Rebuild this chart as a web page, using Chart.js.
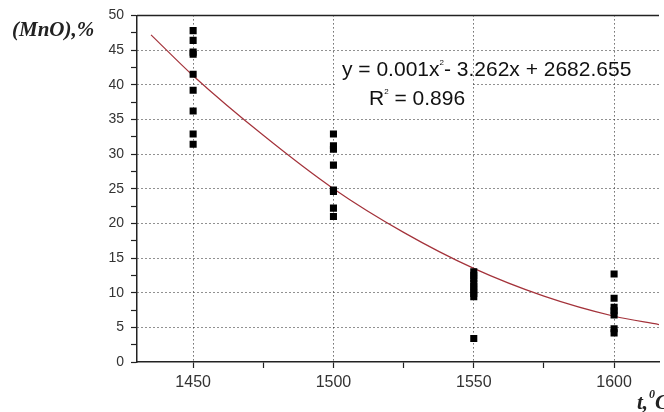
<!DOCTYPE html>
<html>
<head>
<meta charset="utf-8">
<script src="https://cdn.jsdelivr.net/npm/chart.js@4.4.1/dist/chart.umd.min.js"></script>
<style>
  html, body { margin: 0; padding: 0; background: #fff; }
  #wrap { width: 664px; height: 412px; }
</style>
</head>
<body>
<div id="wrap"><canvas id="chart"></canvas></div>
<script>
// --- data ---
const temps = [1450, 1500, 1550, 1600];
const mnoAt1450 = [47.8, 46.4, 44.7, 44.4, 41.5, 39.2, 36.2, 32.9, 31.4];
const mnoAt1500 = [32.9, 31.2, 30.7, 28.4, 24.8, 24.6, 22.2, 21.0];
const mnoAt1550 = [13.0, 12.5, 12.0, 11.4, 10.9, 10.4, 9.9, 9.4, 3.4];
const mnoAt1600 = [12.7, 9.2, 7.9, 7.4, 6.8, 4.8, 4.2];

// trend curve
const trendT = [1435, 1450, 1475, 1500, 1525, 1550, 1575, 1600, 1616];
const trendMnO = [47.2, 41.3, 32.7, 25.0, 18.7, 13.5, 9.5, 6.6, 5.4];

const xTickValues = [1450, 1475, 1500, 1525, 1550, 1575, 1600];
const yMin = 0, yMax = 50, yStep = 2.5;

const points = [];
[mnoAt1450, mnoAt1500, mnoAt1550, mnoAt1600].forEach((list, i) => {
    list.forEach(v => points.push({ x: temps[i], y: v }));
});
const trend = trendT.map((t, i) => ({ x: t, y: trendMnO[i] }));

const ink = '#222';

// --- labels, equation and top frame ---
const extras = {
    id: 'extras',
    beforeDatasetsDraw(chart) {
        const { ctx, chartArea, scales } = chart;
        const xs = scales.x, ys = scales.y;
        ctx.save();
        // white box behind R^2 text
        ctx.fillStyle = '#fff';
        const bx1 = xs.getPixelForValue(1500) + 2, bx2 = xs.getPixelForValue(1550) - 2;
        const by1 = ys.getPixelForValue(41.2), by2 = ys.getPixelForValue(35.6);
        ctx.fillRect(bx1, by1, bx2 - bx1, by2 - by1);
        // top frame
        ctx.strokeStyle = ink;
        ctx.lineWidth = 1.5;
        ctx.beginPath();
        ctx.moveTo(chartArea.left, chartArea.top);
        ctx.lineTo(chartArea.right, chartArea.top);
        ctx.stroke();
        ctx.restore();
    },
    afterDraw(chart) {
        const { ctx } = chart;
        ctx.save();
        ctx.fillStyle = ink;
        ctx.textBaseline = 'alphabetic';
        ctx.textAlign = 'left';

        // y axis title
        ctx.font = 'italic bold 21px "Liberation Serif", "Times New Roman", serif';
        ctx.fillText('(MnO),%', 12, 36);

        // x axis title: t,⁰C
        let x = 637;
        ctx.font = 'italic bold 21px "Liberation Serif", "Times New Roman", serif';
        ctx.fillText('t,', x, 409);
        x += ctx.measureText('t,').width + 1;
        ctx.font = 'italic bold 12px "Liberation Serif", serif';
        ctx.fillText('0', x, 398);
        x += ctx.measureText('0').width;
        ctx.font = 'italic bold 21px "Liberation Serif", "Times New Roman", serif';
        ctx.fillText('C', x, 409);

        // regression equation
        const big = '21px "Liberation Sans", Arial, sans-serif';
        const sup = '8px "Liberation Sans", Arial, sans-serif';
        ctx.fillStyle = '#111';
        x = 342;
        ctx.font = big;
        ctx.fillText('y = 0.001x', x, 76);
        x += ctx.measureText('y = 0.001x').width;
        ctx.font = sup;
        ctx.fillText('2', x, 65);
        x += ctx.measureText('2').width;
        ctx.font = big;
        ctx.fillText('- 3.262x + 2682.655', x, 76);

        x = 369;
        ctx.fillText('R', x, 105);
        x += ctx.measureText('R').width;
        ctx.font = sup;
        ctx.fillText('2', x, 94);
        x += ctx.measureText('2').width;
        ctx.font = big;
        ctx.fillText(' = 0.896', x, 105);
        ctx.restore();
    }
};

new Chart(document.getElementById('chart'), {
    type: 'scatter',
    data: {
        datasets: [
            {
                label: 'MnO',
                data: points,
                backgroundColor: '#000',
                borderColor: '#000',
                pointStyle: 'rect',
                pointRadius: 5,
                pointHoverRadius: 5,
                borderWidth: 0
            },
            {
                type: 'line',
                label: 'trend',
                data: trend,
                borderColor: '#a4333b',
                borderWidth: 1.2,
                pointRadius: 0,
                fill: false,
                cubicInterpolationMode: 'monotone'
            }
        ]
    },
    options: {
        responsive: true,
        maintainAspectRatio: false,
        animation: false,
        layout: { padding: { top: 14, left: 0, right: 0, bottom: 0 } },
        plugins: {
            legend: { display: false },
            tooltip: { enabled: false }
        },
        scales: {
            x: {
                type: 'linear',
                min: 1430,
                max: 1616,
                afterBuildTicks: s => { s.ticks = xTickValues.map(v => ({ value: v })); },
                afterFit: s => { s.height = 50; },
                grid: {
                    color: c => (c.tick && c.tick.value % 50 === 0) ? ink : 'transparent',
                    lineWidth: 1,
                    tickColor: ink,
                    tickLength: 6,
                    tickWidth: 1.2
                },
                border: { color: ink, width: 1.5, dash: [1, 3] },
                ticks: {
                    autoSkip: false,
                    maxRotation: 0,
                    padding: 5,
                    color: '#333',
                    font: { family: '"Liberation Sans", Arial, sans-serif', size: 16 },
                    callback: v => (v % 50 === 0 ? String(v) : '')
                }
            },
            y: {
                min: yMin,
                max: yMax,
                afterFit: s => { s.width = 137; },
                grid: {
                    color: c => (c.tick && c.tick.value % 5 === 0 && c.tick.value > 0) ? ink : 'transparent',
                    lineWidth: 1,
                    tickColor: ink,
                    tickLength: 6,
                    tickWidth: 1.2
                },
                border: { color: ink, width: 1.5, dash: [1, 3] },
                ticks: {
                    stepSize: yStep,
                    autoSkip: false,
                    padding: 7,
                    color: '#333',
                    font: { family: '"Liberation Sans", Arial, sans-serif', size: 14 },
                    callback: v => (v % 5 === 0 ? String(v) : '')
                }
            }
        }
    },
    plugins: [extras]
});
</script>
</body>
</html>
